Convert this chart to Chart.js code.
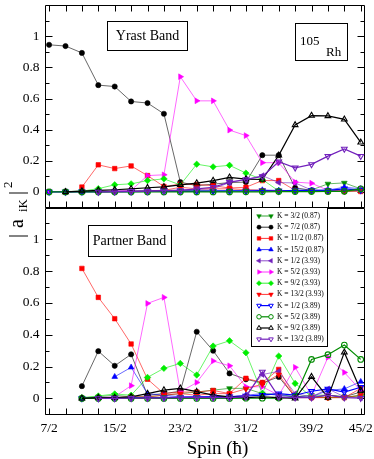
<!DOCTYPE html>
<html>
<head>
<meta charset="utf-8">
<script src="https://cdn.jsdelivr.net/npm/chart.js@4.4.1/dist/chart.umd.min.js"></script>
<style>
  html, body { margin: 0; padding: 0; background: #fff; }
  #wrap { position: relative; width: 374px; height: 459px; background: #fff; }
  #wrap canvas { position: absolute; left: 0; top: 0; }
</style>
</head>
<body>
<div id="wrap">
  <canvas id="yrast" width="374" height="459"></canvas>
  <canvas id="partner" width="374" height="459"></canvas>
</div>
<script>
const SERIF = '"Liberation Serif", "DejaVu Serif", serif';

// spins (x) and tick labels
const yrastSpins = [3.5, 4.5, 5.5, 6.5, 7.5, 8.5, 9.5, 10.5, 11.5, 12.5, 13.5, 14.5, 15.5, 16.5, 17.5, 18.5, 19.5, 20.5, 21.5, 22.5];
const partnerSpins = [5.5, 6.5, 7.5, 8.5, 9.5, 10.5, 11.5, 12.5, 13.5, 14.5, 15.5, 16.5, 17.5, 18.5, 19.5, 20.5, 21.5, 22.5];
const xTickVals = [3.5, 4.5, 5.5, 6.5, 7.5, 8.5, 9.5, 10.5, 11.5, 12.5, 13.5, 14.5, 15.5, 16.5, 17.5, 18.5, 19.5, 20.5, 21.5, 22.5];
const xTickLabels = ['7/2', '', '', '', '15/2', '', '', '', '23/2', '', '', '', '31/2', '', '', '', '39/2', '', '', '45/2'];
const yMajorVals = [0, 0.2, 0.4, 0.6, 0.8, 1];
const yMajorLabels = ['0', '0.2', '0.4', '0.6', '0.8', '1'];
const yMinorVals = [-0.1, 0.1, 0.3, 0.5, 0.7, 0.9, 1.1];

const seriesNames = ['K = 3/2 (0.87)', 'K = 7/2 (0.87)', 'K = 11/2 (0.87)', 'K = 15/2 (0.87)',
  'K = 1/2 (3.93)', 'K = 5/2 (3.93)', 'K = 9/2 (3.93)', 'K = 13/2 (3.93)',
  'K = 1/2 (3.89)', 'K = 5/2 (3.89)', 'K = 9/2 (3.89)', 'K = 13/2 (3.89)'];

// Yrast band |a_iK|^2
const yK3a = [0.002, 0.003, 0.004, 0.005, 0.005, 0.006, 0.008, 0.01, 0.01, 0.008, 0.006, 0.005, 0.005, 0.006, 0.008, 0.01, 0.012, 0.052, 0.058, 0.02];
const yK7a = [0.945, 0.937, 0.893, 0.686, 0.677, 0.581, 0.571, 0.502, 0.063, 0.04, 0.05, 0.06, 0.063, 0.236, 0.236, 0.027, 0.01, 0.008, 0.008, 0.015];
const yK11a = [null, null, 0.031, 0.174, 0.15, 0.167, 0.105, 0.035, 0.05, 0.048, 0.04, 0.025, 0.03, 0.073, 0.073, 0.01, 0.006, 0.005, 0.005, 0.003];
const yK15a = [null, null, null, null, 0.001, 0.002, 0.003, 0.004, 0.005, 0.006, 0.006, 0.008, 0.01, 0.012, 0.01, 0.008, 0.01, 0.012, 0.03, 0.02];
const yK1b = [0.001, 0.002, 0.003, 0.004, 0.005, 0.006, 0.008, 0.01, 0.012, 0.015, 0.02, 0.06, 0.08, 0.105, 0.06, 0.058, 0.012, 0.005, 0.004, 0.01];
const yK5b = [0.001, 0.001, 0.002, 0.003, 0.005, 0.01, 0.105, 0.11, 0.74, 0.585, 0.585, 0.397, 0.362, 0.188, 0.188, 0.063, 0.056, 0.01, 0.006, 0.02];
const yK9b = [null, 0.001, 0.005, 0.021, 0.046, 0.052, 0.073, 0.084, 0.045, 0.178, 0.161, 0.171, 0.121, 0.08, 0.006, 0.004, 0.003, 0.003, 0.004, 0.01];
const yK13b = [null, null, null, 0.001, 0.002, 0.003, 0.005, 0.01, 0.03, 0.02, 0.02, 0.02, 0.015, 0.01, 0.008, 0.006, 0.005, 0.004, 0.004, 0.01];
const yK1c = [0, 0, 0.001, 0.001, 0.002, 0.002, 0.003, 0.003, 0.004, 0.004, 0.005, 0.006, 0.006, 0.008, 0.006, 0.01, 0.01, 0.01, 0.02, 0.012];
const yK5c = [0, 0, 0, 0, 0, 0, 0, 0, 0, 0, 0, 0, 0.001, 0.001, 0.002, 0.002, 0.002, 0.003, 0.004, 0.02];
const yK9c = [null, 0, 0.005, 0.01, 0.014, 0.02, 0.027, 0.033, 0.045, 0.057, 0.073, 0.094, 0.082, 0.08, 0.235, 0.43, 0.49, 0.488, 0.466, 0.318];
const yK13c = [null, null, null, 0, 0.002, 0.004, 0.005, 0.008, 0.01, 0.02, 0.03, 0.063, 0.08, 0.1, 0.194, 0.155, 0.177, 0.23, 0.276, 0.23];

// Partner band |a_iK|^2
const pK3a = [0.003, 0.01, 0.02, 0.01, 0.01, 0.02, 0.03, 0.04, 0.052, 0.063, 0.063, 0.03, 0.025, 0.01, 0.02, 0.02, 0.01, 0.015];
const pK7a = [0.077, 0.297, 0.205, 0.277, 0.02, 0.03, 0.045, 0.419, 0.3, 0.157, 0.12, 0.097, 0.135, 0.01, 0.005, 0.02, 0.01, 0.04];
const pK11a = [0.817, 0.635, 0.501, 0.342, 0.121, 0.03, 0.04, 0.04, 0.05, 0.03, 0.126, 0.1, 0.182, 0.01, 0.005, 0.005, 0.005, 0.063];
const pK15a = [null, null, 0.136, 0.195, 0.03, 0.02, 0.01, 0.01, 0.01, 0.01, 0.02, 0.03, 0.02, 0.01, 0.01, 0.05, 0.06, 0.105];
const pK1b = [0.001, 0.002, 0.003, 0.005, 0.005, 0.006, 0.008, 0.01, 0.01, 0.01, 0.02, 0.15, 0.17, 0.03, 0.01, 0.06, 0.01, 0.005];
const pK5b = [0, 0.005, 0.01, 0.08, 0.597, 0.635, 0.04, 0.1, 0.235, 0.205, 0.073, 0.073, 0.02, 0.195, 0.02, 0.258, 0.163, 0.05];
const pK9b = [0.005, 0.015, 0.028, 0.02, 0.132, 0.189, 0.22, 0.147, 0.329, 0.362, 0.287, 0.03, 0.266, 0.094, 0.01, 0.005, 0.005, 0.02];
const pK13b = [null, 0.003, 0.005, 0.01, 0.01, 0.02, 0.03, 0.02, 0.03, 0.03, 0.06, 0.09, 0.15, 0.005, 0.005, 0.005, 0.005, 0.02];
const pK1c = [0, 0.001, 0.002, 0.003, 0.004, 0.005, 0.006, 0.008, 0.01, 0.01, 0.015, 0.02, 0.03, 0.02, 0.045, 0.06, 0.04, 0.07];
const pK5c = [0, 0, 0, 0, 0, 0, 0, 0, 0, 0, 0.001, 0.001, 0.002, 0.01, 0.245, 0.275, 0.335, 0.245];
const pK9c = [0, 0.005, 0.005, 0.01, 0.03, 0.052, 0.063, 0.042, 0.02, 0.01, 0.005, 0.01, 0.005, 0, 0.136, 0.005, 0.289, 0.05];
const pK13c = [null, 0, 0, 0.001, 0.002, 0.003, 0.004, 0.005, 0.005, 0.005, 0.01, 0.167, 0.01, 0.005, 0.005, 0.02, 0.005, 0.002];

const yrastValues = [yK3a, yK7a, yK11a, yK15a, yK1b, yK5b, yK9b, yK13b, yK1c, yK5c, yK9c, yK13c];
const partnerValues = [pK3a, pK7a, pK11a, pK15a, pK1b, pK5b, pK9b, pK13b, pK1c, pK5c, pK9c, pK13c];

// marker look for each series (same order as seriesNames)
const DGREEN = '#008b00', PURPLE = '#7221bc';
const styles = [
  { color: DGREEN, shape: 'triangle', rot: 180, r: 3.3, open: false },
  { color: '#000000', shape: 'circle', rot: 0, r: 2.6, open: false },
  { color: '#ff0000', shape: 'rect', rot: 0, r: 3.2, open: false },
  { color: '#0000ff', shape: 'triangle', rot: 0, r: 3.3, open: false },
  { color: PURPLE, shape: 'triangle', rot: 270, r: 3.3, open: false },
  { color: '#ff00ff', shape: 'triangle', rot: 90, r: 3.3, open: false },
  { color: '#00ee00', shape: 'rectRot', rot: 0, r: 3.2, open: false },
  { color: '#ff0000', shape: 'triangle', rot: 180, r: 3.3, open: false },
  { color: '#0000ff', shape: 'triangle', rot: 180, r: 3.3, open: true },
  { color: DGREEN, shape: 'circle', rot: 0, r: 2.8, open: true },
  { color: '#000000', shape: 'triangle', rot: 0, r: 3.3, open: true },
  { color: PURPLE, shape: 'triangle', rot: 180, r: 3.3, open: true }
];

function makeSets(spins, valueLists) {
  return valueLists.map((vals, i) => {
    const st = styles[i];
    return {
      label: seriesNames[i],
      data: spins.map((s, j) => ({ x: s, y: vals[j] })).filter(p => p.y !== null),
      borderColor: st.color,
      borderWidth: st.open ? 1.2 : 0.6,
      pointStyle: st.shape,
      pointRotation: st.rot,
      pointRadius: st.r,
      pointBackgroundColor: st.open ? 'rgba(255,255,255,0)' : st.color,
      pointBorderColor: st.color,
      pointBorderWidth: st.open ? 1.1 : 0.6,
      order: valueLists.length - i,
      tension: 0,
      fill: false
    };
  });
}

function line(ctx, x1, y1, x2, y2) { ctx.moveTo(x1, y1); ctx.lineTo(x2, y2); }

// frame + inward ticks on all sides
const frame = {
  id: 'frame',
  beforeDatasetsDraw(chart, args, opts) {
    const { ctx, chartArea: a, scales: { x, y } } = chart;
    const L = Math.round(a.left) + 0.5, R = Math.round(a.right) - 0.5;
    const T = Math.round(a.top) + 0.5, B = Math.round(a.bottom) + 0.5;
    ctx.save();
    ctx.strokeStyle = '#000';
    ctx.lineWidth = 1;
    ctx.beginPath();
    ctx.rect(L, T, R - L, B - T);
    xTickVals.forEach(v => {
      const px = Math.round(x.getPixelForValue(v)) + 0.5;
      line(ctx, px, B, px, B - 6);
      if (opts.topTicks) line(ctx, px, T, px, T + 6);
    });
    yMajorVals.forEach(v => {
      const py = Math.round(y.getPixelForValue(v)) + 0.5;
      line(ctx, L, py, L + 7, py);
      line(ctx, R, py, R - 7, py);
    });
    yMinorVals.forEach(v => {
      const py = Math.round(y.getPixelForValue(v)) + 0.5;
      line(ctx, L, py, L + 4, py);
      line(ctx, R, py, R - 4, py);
    });
    ctx.stroke();
    ctx.restore();
  }
};

function textBox(ctx, x, y, w, h) {
  ctx.fillStyle = '#fff';
  ctx.fillRect(x, y, w, h);
  ctx.strokeStyle = '#000';
  ctx.lineWidth = 1;
  ctx.strokeRect(x + 0.5, y + 0.5, w, h);
  ctx.fillStyle = '#000';
}

const yrastNotes = {
  id: 'yrastNotes',
  afterDraw(chart) {
    const ctx = chart.ctx;
    ctx.save();
    textBox(ctx, 107, 21, 80, 29);
    ctx.textBaseline = 'middle';
    ctx.textAlign = 'center';
    ctx.font = '14px ' + SERIF;
    ctx.fillText('Yrast Band', 147.5, 36.5);
    textBox(ctx, 295, 23, 52, 37);
    ctx.textAlign = 'left';
    ctx.textBaseline = 'alphabetic';
    ctx.font = '13px ' + SERIF;
    ctx.fillText('105', 300, 45);
    ctx.fillText('Rh', 326, 56);
    ctx.restore();
  }
};

const partnerNotes = {
  id: 'partnerNotes',
  afterDraw(chart) {
    const ctx = chart.ctx;
    const drawPoint = Chart.helpers && Chart.helpers.drawPoint;
    ctx.save();
    textBox(ctx, 88, 225, 83, 31);
    ctx.textBaseline = 'middle';
    ctx.textAlign = 'center';
    ctx.font = '14px ' + SERIF;
    ctx.fillText('Partner Band', 129.5, 241);

    // legend
    textBox(ctx, 251, 207, 76, 139);
    ctx.textAlign = 'left';
    ctx.font = '7.5px ' + SERIF;
    seriesNames.forEach((name, i) => {
      const st = styles[i];
      const ly = 216 + i * 11.2;
      ctx.strokeStyle = st.color;
      ctx.lineWidth = st.open ? 1.2 : 0.8;
      ctx.beginPath();
      line(ctx, 259, ly, 271, ly);
      ctx.stroke();
      [259, 271].forEach(px => {
        ctx.fillStyle = st.open ? '#fff' : st.color;
        ctx.strokeStyle = st.color;
        ctx.lineWidth = st.open ? 1 : 0.5;
        if (drawPoint) drawPoint(ctx, { pointStyle: st.shape, rotation: st.rot, radius: st.r * 0.8, borderWidth: 1 }, px, ly);
      });
      ctx.fillStyle = '#000';
      ctx.fillText(name, 277, ly);
    });

    // x title
    ctx.textAlign = 'center';
    ctx.textBaseline = 'alphabetic';
    ctx.font = '19px ' + SERIF;
    ctx.fillText('Spin (\u0127)', 217.5, 454);

    // y title |a_iK|^2, rotated
    ctx.translate(23, 238);
    ctx.rotate(-Math.PI / 2);
    ctx.textAlign = 'left';
    ctx.font = '20px ' + SERIF;
    ctx.fillText('|', 0, 0);
    ctx.fillText('a', 10, 0);
    ctx.font = '13px ' + SERIF;
    ctx.fillText('iK', 26, 4);
    ctx.font = '20px ' + SERIF;
    ctx.fillText('|', 43, 0);
    ctx.font = '13px ' + SERIF;
    ctx.fillText('2', 50, -11);
    ctx.restore();
  }
};

function options(showX, padding, topTicks) {
  return {
    responsive: false,
    animation: false,
    devicePixelRatio: 1,
    layout: { padding },
    plugins: { legend: { display: false }, tooltip: { enabled: false }, frame: { topTicks } },
    scales: {
      x: {
        type: 'linear', min: 3.25, max: 22.76, display: showX,
        afterBuildTicks: s => { s.ticks = xTickVals.map(v => ({ value: v })); },
        ticks: {
          autoSkip: false, maxRotation: 0, minRotation: 0, padding: 6, color: '#000',
          font: { family: SERIF, size: 13.5 },
          callback: v => { const k = xTickVals.indexOf(v); return k < 0 ? '' : xTickLabels[k]; }
        },
        grid: { display: false, drawTicks: false },
        border: { display: false },
        afterFit: s => {
          if (!showX) return;
          s.height = 44.7; s.paddingLeft = 0; s.paddingRight = 0;
        }
      },
      y: {
        min: -0.1, max: 1.2,
        afterBuildTicks: s => { s.ticks = yMajorVals.map(v => ({ value: v })); },
        ticks: {
          padding: 5.5, color: '#000',
          font: { family: SERIF, size: 13.5 },
          callback: v => { const k = yMajorVals.indexOf(v); return k < 0 ? '' : yMajorLabels[k]; }
        },
        grid: { display: false, drawTicks: false },
        border: { display: false },
        afterFit: s => { s.width = 45; s.paddingTop = 0; s.paddingBottom = 0; }
      }
    }
  };
}

new Chart(document.getElementById('yrast'), {
  type: 'line',
  data: { datasets: makeSets(yrastSpins, yrastValues) },
  options: options(false, { left: 0, right: 9, top: 1, bottom: 251.5 }, true),
  plugins: [frame, yrastNotes]
});

new Chart(document.getElementById('partner'), {
  type: 'line',
  data: { datasets: makeSets(partnerSpins, partnerValues) },
  options: options(true, { left: 0, right: 9, top: 207.5, bottom: 0 }, false),
  plugins: [frame, partnerNotes]
});
</script>
</body>
</html>
